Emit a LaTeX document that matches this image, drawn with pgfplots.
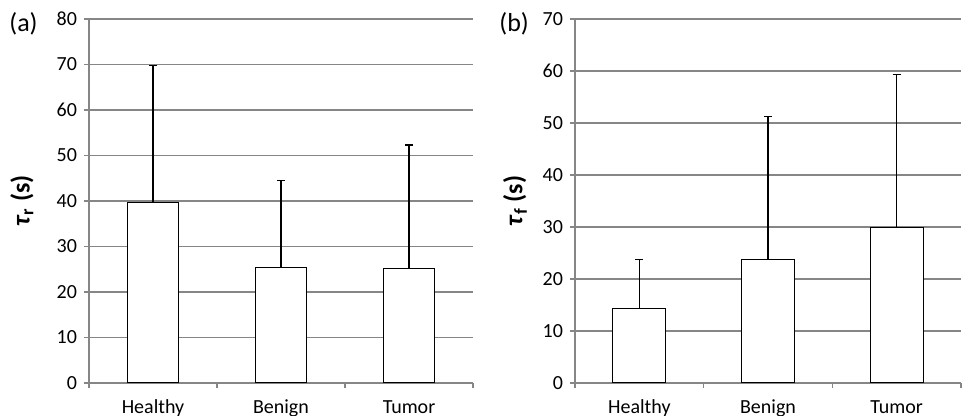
\documentclass[border=0pt]{standalone}
\usepackage{pgfplots}
\pgfplotsset{compat=1.18}
\usepackage{fontspec}
\setmainfont{Carlito}
\definecolor{gridgray}{RGB}{134,134,134}
\pgfplotsset{
 mystyle/.style={
  scale only axis, height=182pt,
  xmin=-0.5, xmax=2.5, ymin=0,
  axis x line*=bottom, axis y line*=left,
  axis line style={draw=gridgray, line width=0.7pt, -},
  ymajorgrids, grid style={gridgray, line width=0.6pt},
  xtick={-0.5,0.5,1.5,2.5}, xticklabels={},
  extra x ticks={0,1,2}, extra x tick labels={Healthy,Benign,Tumor},
  extra x tick style={major tick length=0pt, xticklabel style={yshift=-4pt, text height=1.6ex, text depth=0.4ex}},
  tick align=outside, major tick length=2.5pt,
  tick style={gridgray, line width=0.6pt},
  ytick distance=10,
  /pgf/number format/assume math mode=true,
  ticklabel style={font=\fontsize{10}{12}\selectfont, text=black},
  ylabel style={anchor=center, font=\fontsize{13}{15}\selectfont\bfseries},
 },
 mybar/.style={ybar, fill=white, draw=black, line width=0.6pt, mark=none,
  error bars/.cd, y dir=plus, y explicit,
  error bar style={black, line width=0.55pt},
  error mark options={rotate=90, mark size=2pt, black, line width=0.55pt}},
}
\begin{document}
\begin{tikzpicture}
\useasboundingbox (0,0) rectangle (481pt,208pt);
\begin{axis}[mystyle, at={(44.5pt,16.5pt)}, anchor=south west, width=192pt,
  ymax=80, ylabel={\textit{τ}\textsubscript{r} (s)},
  ylabel style={at={(axis description cs:-0.1745,0.5)}}]
\addplot[bar width=25.5pt, mybar] coordinates {
 (0,39.6) +- (0,30.2)
 (1,25.4) +- (0,19.1)
 (2,25.2) +- (0,27.1)
};
\end{axis}
\begin{axis}[mystyle, at={(287.5pt,16.5pt)}, anchor=south west, width=193pt,
  ymax=70, ylabel={\textit{τ}\textsubscript{f} (s)},
  ylabel style={at={(axis description cs:-0.1554,0.5)}}]
\addplot[bar width=26.5pt, mybar] coordinates {
 (0,14.3) +- (0,9.5)
 (1,23.8) +- (0,27.5)
 (2,29.9) +- (0,29.5)
};
\end{axis}
\node[anchor=west, inner sep=0pt, font=\fontsize{13}{15}\selectfont] at (4.5pt,196pt) {(a)};
\node[anchor=west, inner sep=0pt, font=\fontsize{13}{15}\selectfont] at (249.5pt,196pt) {(b)};
\end{tikzpicture}
\end{document}
